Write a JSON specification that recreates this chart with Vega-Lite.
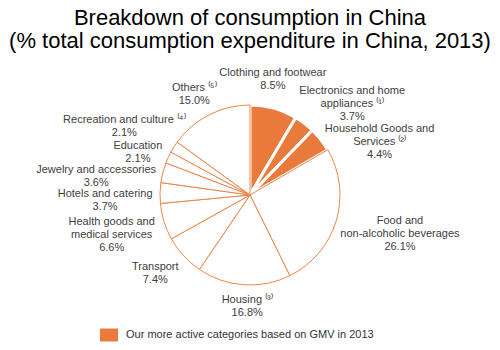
{
  "$schema": "https://vega.github.io/schema/vega-lite/v6.json",
  "autosize": {"type": "none"},
  "width": 500,
  "height": 270,
  "padding": {"top": 60, "left": 0, "right": 0, "bottom": 20},
  "background": "#ffffff",
  "title": {
    "text": ["Breakdown of consumption in China", "(% total consumption expenditure in China, 2013)"],
    "font": "Liberation Sans",
    "fontSize": 22,
    "fontWeight": "normal",
    "color": "#000000",
    "lineHeight": 23,
    "anchor": "middle",
    "frame": "group",
    "offset": -28
  },
  "config": {"view": {"stroke": null}},
  "data": {
    "values": [
      {"id": 1, "cat": "Clothing", "pct": 8.5, "group": "Our more active categories based on GMV in 2013", "label": "Clothing and footwear\n8.5%"},
      {"id": 2, "cat": "Electronics", "pct": 3.7, "group": "Our more active categories based on GMV in 2013", "label": "Electronics and home\nappliances ⁽¹⁾\n3.7%"},
      {"id": 3, "cat": "Household", "pct": 4.4, "group": "Our more active categories based on GMV in 2013", "label": "Household Goods and\nServices ⁽²⁾\n4.4%"},
      {"id": 4, "cat": "Food", "pct": 26.1, "group": "Other", "label": "Food and\nnon-alcoholic beverages\n26.1%"},
      {"id": 5, "cat": "Housing", "pct": 16.8, "group": "Other", "label": "Housing ⁽³⁾\n16.8%"},
      {"id": 6, "cat": "Transport", "pct": 7.4, "group": "Other", "label": "Transport\n7.4%"},
      {"id": 7, "cat": "Health", "pct": 6.6, "group": "Other", "label": "Health goods and\nmedical services\n6.6%"},
      {"id": 8, "cat": "Hotels", "pct": 3.7, "group": "Other", "label": "Hotels and catering\n3.7%"},
      {"id": 9, "cat": "Jewelry", "pct": 3.6, "group": "Other", "label": "Jewelry and accessories\n3.6%"},
      {"id": 10, "cat": "Education", "pct": 2.1, "group": "Other", "label": "Education\n2.1%"},
      {"id": 11, "cat": "Recreation", "pct": 2.1, "group": "Other", "label": "Recreation and culture ⁽⁴⁾\n2.1%"},
      {"id": 12, "cat": "Others", "pct": 15.0, "group": "Other", "label": "Others ⁽⁵⁾\n15.0%"}
    ]
  },
  "encoding": {
    "theta": {"field": "pct", "type": "quantitative", "stack": true},
    "order": {"field": "id", "type": "quantitative"}
  },
  "layer": [
    {
      "mark": {"type": "arc", "outerRadius": 90},
      "encoding": {
        "fill": {
          "field": "group", "type": "nominal",
          "scale": {"domain": ["Our more active categories based on GMV in 2013", "Other"], "range": ["#E97A3B", "#FFFFFF"]},
          "legend": {
            "values": ["Our more active categories based on GMV in 2013"],
            "title": null,
            "orient": "none",
            "legendX": 100,
            "legendY": 266,
            "symbolType": "M-1,-0.72H1V0.72H-1Z",
            "symbolSize": 324,
            "symbolStrokeWidth": 0,
            "labelFont": "Liberation Sans",
            "labelFontSize": 11,
            "labelColor": "#333333",
            "labelOffset": 8,
            "labelLimit": 0
          }
        },
        "stroke": {"condition": {"test": "datum.id <= 3", "value": "#FFFFFF"}, "value": "#EC8549"},
        "strokeWidth": {"condition": {"test": "datum.id <= 3", "value": 3}, "value": 1}
      }
    },
    {"mark": {"type": "text", "radius": 118, "thetaOffset": -0.072, "dy": -6.5, "align": "center", "baseline": "middle", "lineBreak": "\n", "font": "Liberation Sans", "fontSize": 11, "lineHeight": 13, "fill": "#404040"},
     "encoding": {"text": {"condition": {"test": "datum.id === 1", "field": "label"}, "value": ""}}},
    {"mark": {"type": "text", "radius": 137, "thetaOffset": 0.192, "dy": -13, "align": "center", "baseline": "middle", "lineBreak": "\n", "font": "Liberation Sans", "fontSize": 11, "lineHeight": 13, "fill": "#404040"},
     "encoding": {"text": {"condition": {"test": "datum.id === 2", "field": "label"}, "value": ""}}},
    {"mark": {"type": "text", "radius": 140, "thetaOffset": 0.278, "dy": -13, "align": "center", "baseline": "middle", "lineBreak": "\n", "font": "Liberation Sans", "fontSize": 11, "lineHeight": 13, "fill": "#404040"},
     "encoding": {"text": {"condition": {"test": "datum.id === 3", "field": "label"}, "value": ""}}},
    {"mark": {"type": "text", "radius": 155, "thetaOffset": -0.037, "dy": -13, "align": "center", "baseline": "middle", "lineBreak": "\n", "font": "Liberation Sans", "fontSize": 11, "lineHeight": 13, "fill": "#404040"},
     "encoding": {"text": {"condition": {"test": "datum.id === 4", "field": "label"}, "value": ""}}},
    {"mark": {"type": "text", "radius": 112, "thetaOffset": -0.044, "dy": -6.5, "align": "center", "baseline": "middle", "lineBreak": "\n", "font": "Liberation Sans", "fontSize": 11, "lineHeight": 13, "fill": "#404040"},
     "encoding": {"text": {"condition": {"test": "datum.id === 5", "field": "label"}, "value": ""}}},
    {"mark": {"type": "text", "radius": 123, "thetaOffset": 0.05, "dy": -6.5, "align": "center", "baseline": "middle", "lineBreak": "\n", "font": "Liberation Sans", "fontSize": 11, "lineHeight": 13, "fill": "#404040"},
     "encoding": {"text": {"condition": {"test": "datum.id === 6", "field": "label"}, "value": ""}}},
    {"mark": {"type": "text", "radius": 144, "thetaOffset": 0.02, "dy": -13, "align": "center", "baseline": "middle", "lineBreak": "\n", "font": "Liberation Sans", "fontSize": 11, "lineHeight": 13, "fill": "#404040"},
     "encoding": {"text": {"condition": {"test": "datum.id === 7", "field": "label"}, "value": ""}}},
    {"mark": {"type": "text", "radius": 145, "thetaOffset": -0.061, "dy": -6.5, "align": "center", "baseline": "middle", "lineBreak": "\n", "font": "Liberation Sans", "fontSize": 11, "lineHeight": 13, "fill": "#404040"},
     "encoding": {"text": {"condition": {"test": "datum.id === 8", "field": "label"}, "value": ""}}},
    {"mark": {"type": "text", "radius": 155, "thetaOffset": -0.129, "dy": -6.5, "align": "center", "baseline": "middle", "lineBreak": "\n", "font": "Liberation Sans", "fontSize": 11, "lineHeight": 13, "fill": "#404040"},
     "encoding": {"text": {"condition": {"test": "datum.id === 9", "field": "label"}, "value": ""}}},
    {"mark": {"type": "text", "radius": 120, "thetaOffset": -0.066, "dy": -6.5, "align": "center", "baseline": "middle", "lineBreak": "\n", "font": "Liberation Sans", "fontSize": 11, "lineHeight": 13, "fill": "#404040"},
     "encoding": {"text": {"condition": {"test": "datum.id === 10", "field": "label"}, "value": ""}}},
    {"mark": {"type": "text", "radius": 143, "thetaOffset": -0.065, "dy": -6.5, "align": "center", "baseline": "middle", "lineBreak": "\n", "font": "Liberation Sans", "fontSize": 11, "lineHeight": 13, "fill": "#404040"},
     "encoding": {"text": {"condition": {"test": "datum.id === 11", "field": "label"}, "value": ""}}},
    {"mark": {"type": "text", "radius": 115, "thetaOffset": -0.035, "dy": -6.5, "align": "center", "baseline": "middle", "lineBreak": "\n", "font": "Liberation Sans", "fontSize": 11, "lineHeight": 13, "fill": "#404040"},
     "encoding": {"text": {"condition": {"test": "datum.id === 12", "field": "label"}, "value": ""}}}
  ]
}
